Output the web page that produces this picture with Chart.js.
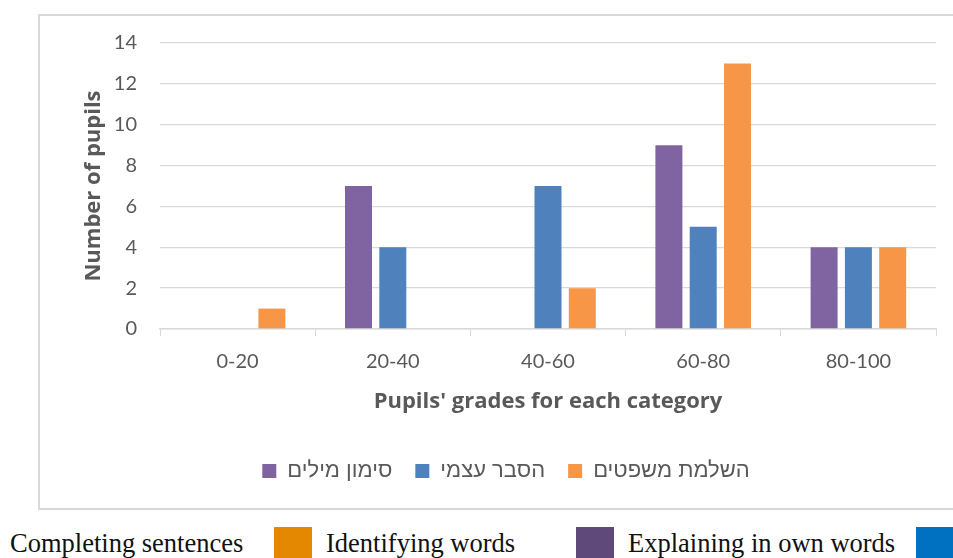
<!DOCTYPE html>
<html>
<head>
<meta charset="utf-8">
<script src="https://cdn.jsdelivr.net/npm/chart.js@4"></script>
<style>
  html, body { margin: 0; padding: 0; background: #fff; }
  body { width: 953px; height: 558px; overflow: hidden; position: relative; }
  #frame {
    position: absolute; left: 38px; top: 14px;
    width: 933px; height: 492px;
    border: 2px solid #d9d9d9; background: #fff;
  }
  #frame canvas { display: block; }
  .key-text {
    position: absolute; top: 530px; line-height: 26px; white-space: nowrap;
    font-family: "Liberation Serif", "DejaVu Serif", serif; font-size: 26.5px; color: #111;
  }
  .key-box { position: absolute; top: 527px; width: 38px; height: 38px; }
</style>
</head>
<body>
<div id="frame"><canvas id="chart" width="933" height="492"></canvas></div>
<div id="key"></div>
<script>
// Grade bands on the x axis
const categories = ['0-20', '20-40', '40-60', '60-80', '80-100'];

// Number of pupils per grade band, one array per exercise type
const seriesNames = ['סימון מילים', 'הסבר עצמי', 'השלמת משפטים'];
const markingWords = [0, 7, 0, 9, 4];
const selfExplanation = [0, 4, 7, 5, 4];
const completingSentences = [1, 0, 2, 13, 4];

const yTicks = [0, 2, 4, 6, 8, 10, 12, 14];

// English key shown under the chart
const keyLabels = ['Completing sentences', 'Identifying words', 'Explaining in own words'];
const keyColors = ['#E38800', '#5F497A', '#0070C0'];
const keyTextLeft = [10, 326, 628];
const keyBoxLeft = [274, 576, 916];

const keyEl = document.getElementById('key');
keyLabels.forEach((t, i) => {
  const s = document.createElement('div');
  s.className = 'key-text';
  s.style.left = keyTextLeft[i] + 'px';
  s.textContent = t;
  keyEl.appendChild(s);
  const b = document.createElement('div');
  b.className = 'key-box';
  b.style.left = keyBoxLeft[i] + 'px';
  b.style.background = keyColors[i];
  keyEl.appendChild(b);
});

const gray = '#595959';
const gridGray = '#d9d9d9';
const tickFont = { family: 'Lato, "Open Sans", sans-serif', size: 20 };
const titleFont = { family: '"Open Sans", Lato, sans-serif', size: 22, weight: 'bold' };

new Chart(document.getElementById('chart'), {
  type: 'bar',
  data: {
    labels: categories,
    datasets: [
      { label: seriesNames[0], data: markingWords, backgroundColor: '#8064A2' },
      { label: seriesNames[1], data: selfExplanation, backgroundColor: '#4F81BD' },
      { label: seriesNames[2], data: completingSentences, backgroundColor: '#F79646' }
    ]
  },
  options: {
    responsive: false,
    animation: false,
    events: [],
    datasets: { bar: { categoryPercentage: 0.663, barPercentage: 0.787, borderWidth: 0 } },
    layout: { padding: { left: 36, right: 37, top: 27, bottom: 16 } },
    plugins: {
      tooltip: { enabled: false },
      legend: {
        position: 'bottom',
        labels: {
          boxWidth: 14, boxHeight: 14, padding: 23, color: gray,
          font: { family: '"Liberation Sans", Arial, "DejaVu Sans", sans-serif', size: 22 }
        }
      }
    },
    scales: {
      x: {
        grid: { display: true, drawOnChartArea: false, drawTicks: true, tickLength: 7, color: gridGray, offset: true },
        border: { color: gridGray, width: 1.5 },
        ticks: { color: gray, font: tickFont, padding: 14, maxRotation: 0 },
        title: { display: true, text: "Pupils' grades for each category", color: gray, font: titleFont, padding: { top: 0, bottom: 22 } },
        afterFit: (s) => { s.height = 108; }
      },
      y: {
        min: 0, max: 14,
        afterBuildTicks: (s) => { s.ticks = yTicks.map(v => ({ value: v })); },
        grid: { color: gridGray, lineWidth: 1.3, drawTicks: false },
        border: { display: false },
        ticks: { color: gray, font: tickFont, padding: 23 },
        title: { display: true, text: 'Number of pupils', color: gray, font: titleFont, padding: { top: 5, bottom: 0 } },
        afterFit: (s) => { s.width = 84; s.paddingTop = 0; s.paddingBottom = 0; }
      }
    }
  }
});
</script>
</body>
</html>
